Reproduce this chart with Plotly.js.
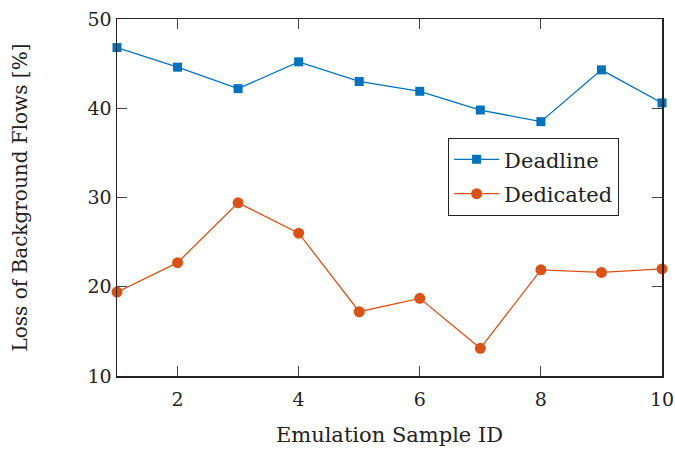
<!DOCTYPE html>
<html>
<head>
<meta charset="utf-8">
<script src="https://cdn.plot.ly/plotly-3.0.1.min.js"></script>
<style>html,body{margin:0;padding:0;background:#fff;}#chart{width:675px;height:449px;}</style>
</head>
<body>
<div id="chart"></div>
<script>
const sampleIds = [1, 2, 3, 4, 5, 6, 7, 8, 9, 10];
const deadline = [46.8, 44.6, 42.2, 45.2, 43.0, 41.9, 39.8, 38.5, 44.3, 40.6];
const dedicated = [19.4, 22.7, 29.4, 26.0, 17.2, 18.7, 13.1, 21.9, 21.6, 22.0];
const xTicks = [2, 4, 6, 8, 10];
const yTicks = [10, 20, 30, 40, 50];

const fontFam = '"DejaVu Serif", "Liberation Serif", serif';
const txtColor = '#222';

const traces = [
  {
    x: sampleIds, y: deadline, name: 'Deadline', type: 'scatter', mode: 'lines+markers',
    legendgroup: 'a',
    line: {color: '#0072BD', width: 1.3},
    marker: {symbol: 'square', size: 9, color: '#0072BD'},
    cliponaxis: false
  },
  {
    x: sampleIds, y: dedicated, name: 'Dedicated', type: 'scatter', mode: 'lines+markers',
    legendgroup: 'b',
    line: {color: '#D95319', width: 1.3},
    marker: {symbol: 'circle', size: 11, color: '#D95319'},
    cliponaxis: false
  }
];

const layout = {
  width: 675, height: 449,
  margin: {l: 117, r: 13, t: 19, b: 73},
  paper_bgcolor: '#fff', plot_bgcolor: '#fff',
  font: {family: fontFam, size: 19, color: txtColor},
  showlegend: true,
  legend: {
    x: 0.607, y: 0.667, xanchor: 'left', yanchor: 'top',
    bordercolor: '#222', borderwidth: 1.3, bgcolor: '#fff',
    font: {family: fontFam, size: 21, color: txtColor},
    itemwidth: 45, traceorder: 'grouped', tracegroupgap: 4
  },
  xaxis: {
    range: [1, 10], tickvals: xTicks, ticktext: xTicks.map(String),
    ticks: 'inside', ticklen: 10, tickwidth: 1, tickcolor: '#444',
    showline: true, linecolor: '#222', linewidth: 1.5, mirror: 'ticks',
    showgrid: false, zeroline: false, ticklabelstandoff: 6,
    tickfont: {family: fontFam, size: 19, color: txtColor},
    title: {text: 'Emulation Sample ID', font: {family: fontFam, size: 21, color: txtColor}, standoff: 18}
  },
  yaxis: {
    range: [10, 50], tickvals: yTicks, ticktext: yTicks.map(String),
    ticks: 'inside', ticklen: 10, tickwidth: 1, tickcolor: '#444',
    showline: true, linecolor: '#222', linewidth: 1.5, mirror: 'ticks',
    showgrid: false, zeroline: false,
    tickfont: {family: fontFam, size: 19, color: txtColor},
    title: {text: 'Loss of Background Flows [%]', font: {family: fontFam, size: 20, color: txtColor}, standoff: 54}
  }
};

Plotly.newPlot('chart', traces, layout, {staticPlot: true, displayModeBar: false});
</script>
</body>
</html>
